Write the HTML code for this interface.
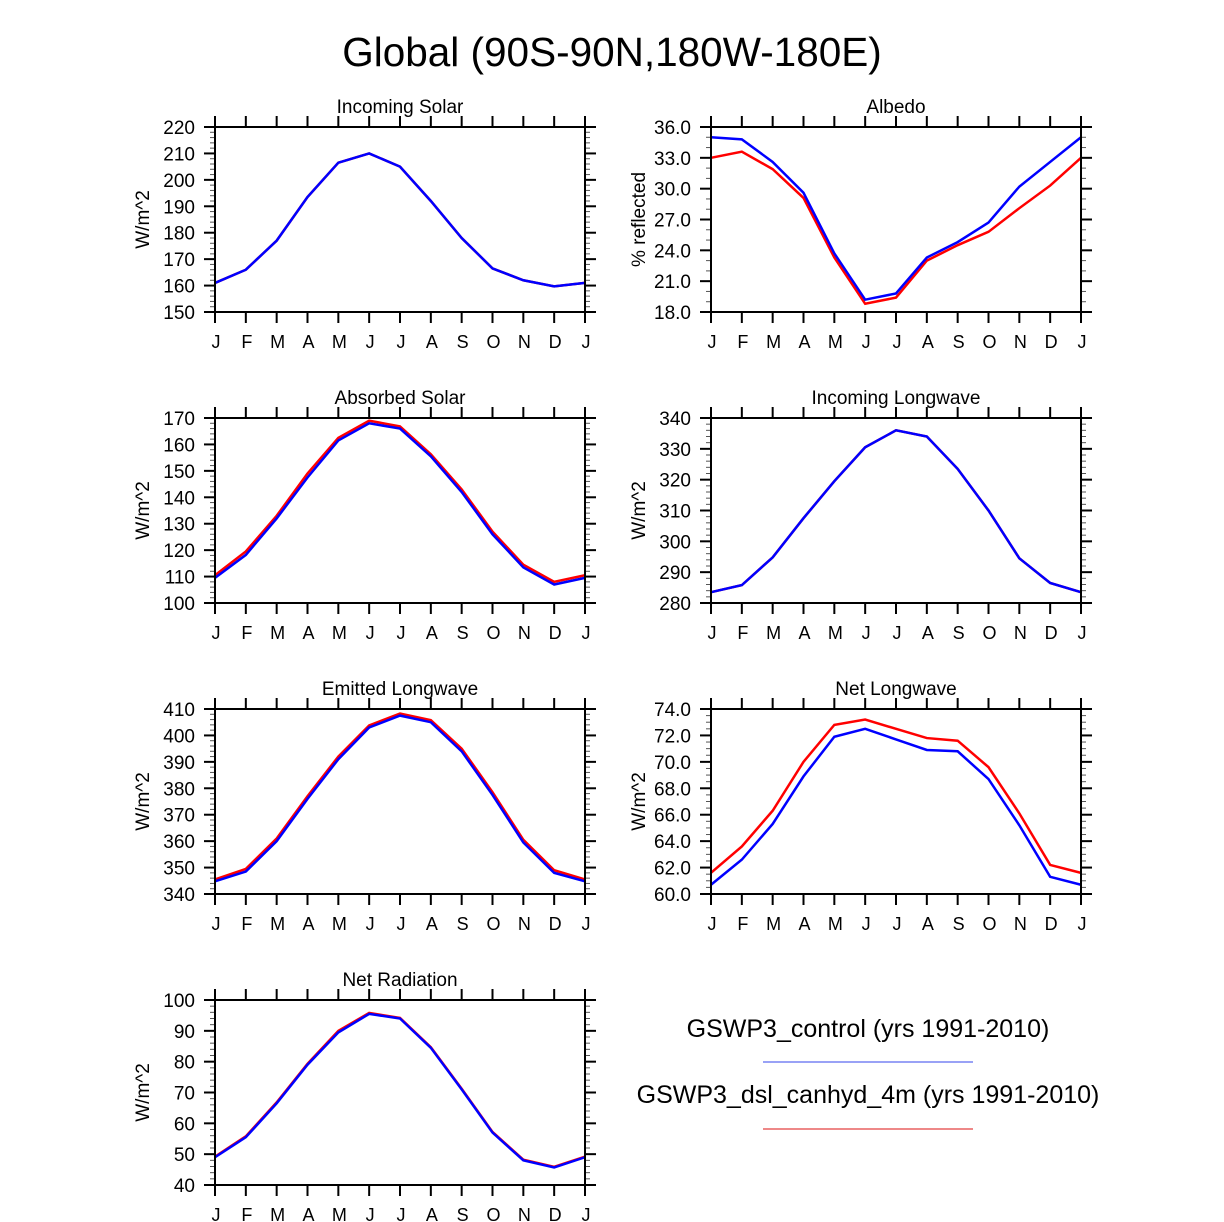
<!DOCTYPE html>
<html><head><meta charset="utf-8"><style>
body{margin:0;background:#fff;}
svg{display:block;font-family:"Liberation Sans",sans-serif;}
</style></head><body>
<svg id="fig" width="1224" height="1222" viewBox="0 0 1224 1222" xmlns="http://www.w3.org/2000/svg">
<rect width="1224" height="1222" fill="#fff"/>
<text x="612" y="66" font-size="40.5" text-anchor="middle">Global (90S-90N,180W-180E)</text>
<g>
<text x="868" y="1037" font-size="25" text-anchor="middle">GSWP3_control (yrs 1991-2010)</text>
<line x1="763" y1="1062" x2="973" y2="1062" stroke="#3344ee" stroke-width="1"/>
<text x="868" y="1103" font-size="25" text-anchor="middle">GSWP3_dsl_canhyd_4m (yrs 1991-2010)</text>
<line x1="763" y1="1129" x2="973" y2="1129" stroke="#dd1111" stroke-width="1"/>
</g>
</svg>
<script>
const months = ["J","F","M","A","M","J","J","A","S","O","N","D","J"];
const solarCtl = [161,166,177,193.5,206.5,210,205,192,178,166.5,162,159.7,161];
const solarDsl = [161,166,177,193.5,206.5,210,205,192,178,166.5,162,159.7,161];
const albedoCtl = [35,34.8,32.6,29.6,23.7,19.2,19.8,23.3,24.8,26.7,30.2,32.6,35];
const albedoDsl = [33,33.6,31.9,29.1,23.3,18.8,19.4,23.0,24.5,25.8,28.1,30.3,33];
const absCtl = [109.5,118.2,132,147.5,161.5,168,166,155.5,142,126,113.5,107,109.5];
const absDsl = [110.5,119.5,133,149,162.5,169,166.8,156.3,143,127,114.5,108,110.5];
const ilwCtl = [283.5,285.8,294.8,307.5,319.5,330.5,336,334,323.5,310,294.5,286.5,283.5];
const ilwDsl = [283.5,285.8,294.8,307.5,319.5,330.5,336,334,323.5,310,294.5,286.5,283.5];
const elwCtl = [344.8,348.5,360,376,391,403,407.5,405,394,377.5,359.5,348,344.8];
const elwDsl = [345.5,349.5,361,377,392,403.8,408.3,405.8,395,378.5,360.5,349,345.5];
const nlwCtl = [60.7,62.6,65.3,68.9,71.9,72.5,71.7,70.9,70.8,68.7,65.2,61.3,60.7];
const nlwDsl = [61.6,63.6,66.3,70.0,72.8,73.2,72.5,71.8,71.6,69.6,66.1,62.2,61.6];
const netCtl = [49,55.5,66.5,79,89.5,95.5,94,84.5,71,57,48,45.7,49];
const netDsl = [49.2,55.8,66.8,79.3,90,95.8,94.2,84.7,71.2,57.2,48.2,45.9,49.2];
const solarTicks = [150,160,170,180,190,200,210,220];
const albedoTicks = [18,21,24,27,30,33,36];
const absTicks = [100,110,120,130,140,150,160,170];
const ilwTicks = [280,290,300,310,320,330,340];
const elwTicks = [340,350,360,370,380,390,400,410];
const nlwTicks = [60,62,64,66,68,70,72,74];
const netTicks = [40,50,60,70,80,90,100];

const NS="http://www.w3.org/2000/svg";
const svg=document.getElementById('fig');
function mk(tag,attrs,parent){const e=document.createElementNS(NS,tag);for(const k in attrs)e.setAttribute(k,attrs[k]);parent.appendChild(e);return e;}

function panel(key,title,ytitle,x0,y0,ticks,dec,minorN,ctl,dsl){
  const W=370,H=185;
  const g=mk('g',{},svg);
  
  
  const lo=ticks[0],hi=ticks[ticks.length-1];
  const xs=i=>x0+i*W/12;
  const ys=v=>y0+H-(v-lo)/(hi-lo)*H;
  const t=mk('text',{x:x0+W/2,y:y0-14,'font-size':19,'text-anchor':'middle'},g);
  t.textContent=title;
  
  
  const yt=mk('text',{x:0,y:0,'font-size':19,'text-anchor':'middle',transform:`translate(${x0-66},${y0+H/2}) rotate(-90)`},g);
  yt.textContent=ytitle;
  
  
  const step=ticks[1]-ticks[0];
  for(let k=0;k<ticks.length;k++){
    const y=ys(ticks[k]);
    mk('line',{x1:x0-11,y1:y,x2:x0,y2:y,stroke:'#000','stroke-width':2},g);
    mk('line',{x1:x0+W,y1:y,x2:x0+W+11,y2:y,stroke:'#000','stroke-width':2},g);
    const lb=mk('text',{x:x0-20,y:y+7,'font-size':19,'text-anchor':'end'},g);
    lb.textContent=ticks[k].toFixed(dec);
    
    
    if(k<ticks.length-1){
      for(let m=1;m<minorN;m++){
        const ym=ys(ticks[k]+step*m/minorN);
        mk('line',{x1:x0-5,y1:ym,x2:x0,y2:ym,stroke:'#555','stroke-width':1},g);
        mk('line',{x1:x0+W,y1:ym,x2:x0+W+5,y2:ym,stroke:'#555','stroke-width':1},g);
      }
    }
  }
  for(let i=0;i<months.length;i++){
    const x=xs(i);
    mk('line',{x1:x,y1:y0+H,x2:x,y2:y0+H+11,stroke:'#000','stroke-width':2},g);
    mk('line',{x1:x,y1:y0-11,x2:x,y2:y0,stroke:'#000','stroke-width':2},g);
    const lb=mk('text',{x:x+1,y:y0+H+36,'font-size':18,'text-anchor':'middle'},g);
    lb.textContent=months[i];
    
    
  }
  const rd=mk('polyline',{points:dsl.map((v,i)=>xs(i)+','+ys(v)).join(' '),fill:'none',stroke:'#ff0000','stroke-width':2.5},g);
  
  
  const bl=mk('polyline',{points:ctl.map((v,i)=>xs(i)+','+ys(v)).join(' '),fill:'none',stroke:'#0000ff','stroke-width':2.5},g);
  
  
  mk('rect',{x:x0,y:y0,width:W,height:H,fill:'none',stroke:'#000','stroke-width':2},g);
}
panel('incoming-solar','Incoming Solar','W/m^2',215,127,solarTicks,0,5,solarCtl,solarDsl);
panel('albedo','Albedo','% reflected',711,127,albedoTicks,1,3,albedoCtl,albedoDsl);
panel('absorbed-solar','Absorbed Solar','W/m^2',215,418,absTicks,0,5,absCtl,absDsl);
panel('incoming-longwave','Incoming Longwave','W/m^2',711,418,ilwTicks,0,5,ilwCtl,ilwDsl);
panel('emitted-longwave','Emitted Longwave','W/m^2',215,709,elwTicks,0,5,elwCtl,elwDsl);
panel('net-longwave','Net Longwave','W/m^2',711,709,nlwTicks,1,4,nlwCtl,nlwDsl);
panel('net-radiation','Net Radiation','W/m^2',215,1000,netTicks,0,5,netCtl,netDsl);
</script>
</body></html>
